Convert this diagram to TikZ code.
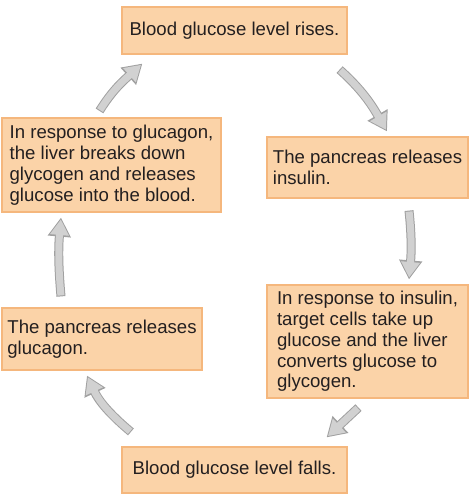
\documentclass[tikz,border=0pt]{standalone}
\usepackage{fontspec}
\setmainfont{Liberation Sans}
\usepackage{xcolor}
\usetikzlibrary{arrows.meta,positioning}

\definecolor{boxfill}{HTML}{FBD3A8}
\definecolor{boxedge}{HTML}{F5B77D}
\definecolor{arrowfill}{HTML}{D1D1D1}
\definecolor{arrowedge}{HTML}{A0A0A0}
\definecolor{textcol}{HTML}{231F20}

\begin{document}
\begin{tikzpicture}[x=1pt,y=1pt]
  \tikzset{align=left,font=\fontsize{18.6}{20.8}\selectfont,text=textcol}

  \tikzset{stage/.style = {shape=rectangle,draw=boxedge,fill=boxfill,line width=1.2pt,inner sep=0pt}}

  \tikzset{flow/.style = {draw=arrowfill,line width=7pt,shorten >=1.9pt,shorten <=1pt,
      -{Triangle[width=18pt,length=15.5pt]},
      preaction={draw=arrowedge,line width=9pt,shorten >=0pt,shorten <=0pt,
        -{Triangle[width=22pt,length=19pt]}}}}

  \useasboundingbox (0,0) rectangle (469,499);

  % boxes

  \node[stage,minimum width=225pt,minimum height=47pt] (rise) at (234.5,468.5)
    {Blood glucose level rises.};

  \node[stage,minimum width=201pt,minimum height=61pt] (insulin) at (367.5,331.5)
    {The pancreas releases\\insulin.};

  \node[stage,minimum width=201pt,minimum height=113pt] (uptake) at (367.5,157.5)
    {In response to insulin,\\target cells take up\\glucose and the liver\\converts glucose to\\glycogen.};

  \node[stage,minimum width=225pt,minimum height=46pt] (falls) at (234.5,29)
    {Blood glucose level falls.};

  \node[stage,minimum width=200pt,minimum height=62pt] (glucagon) at (102,160)
    {The pancreas releases\\glucagon.};

  \node[stage,minimum width=219pt,minimum height=94pt] (breakdown) at (111.5,334)
    {In response to glucagon,\\the liver breaks down\\glycogen and releases\\glucose into the blood.};

  % arrows

  \draw[flow] ([shift={(-8,-15)}]rise.south east) to[out=-42,in=120] ([shift={(19.5,5)}]insulin.north);
  \draw[flow] ([shift={(41.5,-12)}]insulin.south) to[out=-84,in=85] ([shift={(41.5,5)}]uptake.north);
  \draw[flow] ([shift={(-9,-9)}]uptake.south) -- ([shift={(-21,9)}]falls.north east);
  \draw[flow] ([shift={(9.5,14.5)}]falls.north west) to[out=140,in=-65] ([shift={(-15,-5)}]glucagon.south);
  \draw[flow] ([shift={(-41,11)}]glucagon.north) to[out=95,in=-95] ([shift={(-50.5,-5)}]breakdown.south);
  \draw[flow] ([shift={(-12,6.5)}]breakdown.north) to[out=58,in=222] ([shift={(21,-9)}]rise.south west);
\end{tikzpicture}
\end{document}
